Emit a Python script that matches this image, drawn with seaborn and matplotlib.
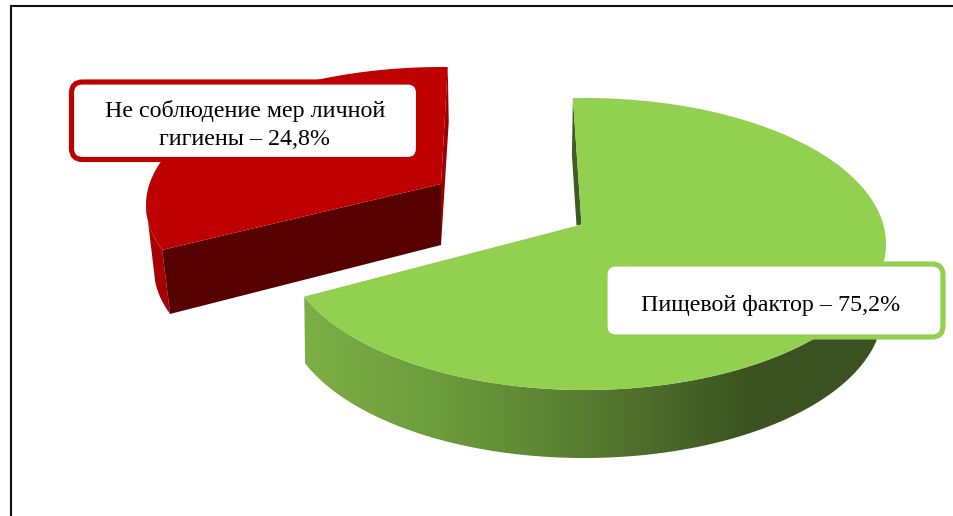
import numpy as np
import matplotlib
matplotlib.use("Agg")
import matplotlib.pyplot as plt
from matplotlib.colors import LinearSegmentedColormap
from matplotlib.patches import FancyBboxPatch, Polygon
import seaborn as sns

# ---- data ----
categories = ["Пищевой фактор", "Не соблюдение мер личной\nгигиены"]
values = [75.2, 24.8]
value_labels = ["75,2%", "24,8%"]

# ---- style ----
TOP_GREEN, TOP_RED = sns.color_palette(["#92D050", "#BE0000"])
W, H = 954, 516

sns.set_theme(style="white")
plt.rcParams["font.family"] = ["Liberation Serif", "DejaVu Serif"]

fig = plt.figure(figsize=(W / 100, H / 100), dpi=100, facecolor="white")
ax = fig.add_axes([0, 0, 1, 1])
ax.set_axis_off()


def rim(cx, cy, rx, ry, t0, t1, n=160):
    t = np.radians(np.linspace(t0, t1, n))
    return np.column_stack([cx + rx * np.cos(t), cy - ry * np.sin(t)])


# ---- frame ----
ax.plot([11, 11, W], [H, 6, 6], color="#111111", lw=1.5, solid_joinstyle="miter", zorder=1)

# ---- green slice (view: perspective compresses the true sweep) ----
g_c = (585, 244, 301, 146)
g_start = 92.3
g_end = g_start - values[0] * 3.34
g_depth = 66
g_apex = np.array([581.5, 224.5])
g_side_stop = -12

top = rim(*g_c, g_start, g_end)
side_top = rim(*g_c, g_end, g_side_stop)
side_bot = rim(g_c[0] - 1, g_c[1] + g_depth, g_c[2] - 2, g_c[3] + 2, g_side_stop, g_end)
side_poly = np.vstack([side_top, side_bot])

grad = LinearSegmentedColormap.from_list(
    "side", ["#7DAF46", "#6A9A3A", "#55782F", "#3B5320", "#3B5320"]
)
img = ax.imshow(
    np.linspace(0, 1, 256)[None, :],
    cmap=grad,
    extent=(303, 900, 470, 250),
    aspect="auto",
    zorder=2,
)
clip = Polygon(side_poly, closed=True, transform=ax.transData, fc="none", ec="none")
ax.add_patch(clip)
img.set_clip_path(clip)

p0 = top[0]
sliver = [p0, p0 + (-1, 57), g_apex + (-5, 1), g_apex]
ax.add_patch(Polygon(sliver, closed=True, fc="#3F5A22", ec="none", zorder=2))
ax.add_patch(Polygon(np.vstack([g_apex, top]), closed=True, fc=TOP_GREEN, ec="none", zorder=3))

# ---- red slice, pulled out ----
r_c = (442, 205, 296, 138)
r_end = 199.0
r_start = r_end - values[1] * 4.44
r_shift = (8, 64)
r_apex = np.array([441, 184])

r_top = rim(*r_c, r_start, r_end)
pa, pb = r_top[0], r_top[-1]
left_up = rim(*r_c, 180, r_end, 40)
left_low = rim(r_c[0] + r_shift[0], r_c[1] + r_shift[1], r_c[2], r_c[3], r_end, 185, 40)
ax.add_patch(Polygon(np.vstack([left_up, left_low]), closed=True, fc="#A80000", ec="none", zorder=2))
ax.add_patch(Polygon([pa, pa + (1, 55), r_apex + (0, 61), r_apex], closed=True, fc="#9C0000", ec="none", zorder=2))
ax.add_patch(Polygon([r_apex, pb, pb + r_shift, r_apex + (0, 61)], closed=True, fc="#560000", ec="none", zorder=3))
ax.add_patch(Polygon(np.vstack([r_apex, r_top]), closed=True, fc=TOP_RED, ec="none", zorder=3))

# ---- labels ----
def label(x0, y0, x1, y1, color, text, tx, ty):
    ax.add_patch(
        FancyBboxPatch(
            (x0, y0), x1 - x0, y1 - y0,
            boxstyle="round,pad=0,rounding_size=11",
            fc="white", ec=color, lw=3.7, zorder=5,
        )
    )
    ax.text(tx, ty, text, ha="center", va="center", fontsize=17.3,
            color="black", linespacing=1.4, zorder=6)


label(605, 264, 943, 337, TOP_GREEN, f"{categories[0]} – {value_labels[0]}", 771, 305)
label(71.5, 82, 418.5, 159.5, TOP_RED, f"{categories[1]} – {value_labels[1]}", 245, 125)

ax.set_xlim(0, W)
ax.set_ylim(H, 0)
fig.savefig("out.png", dpi=100, facecolor="white")
